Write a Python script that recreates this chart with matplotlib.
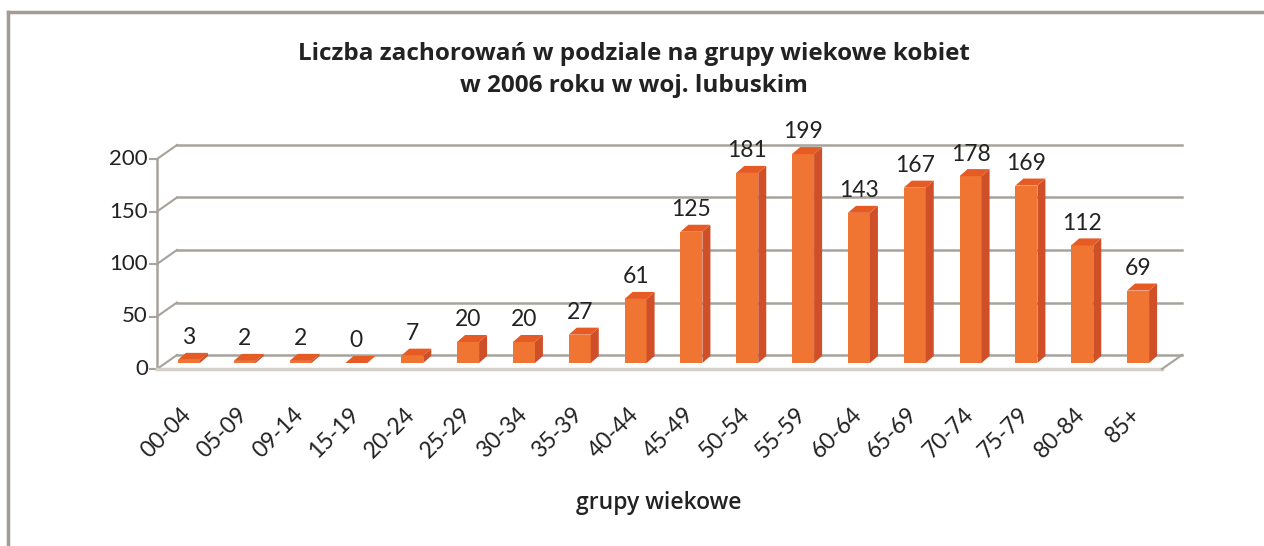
import matplotlib
matplotlib.use("Agg")
import matplotlib.pyplot as plt
from matplotlib.patches import Polygon
from matplotlib.lines import Line2D

# ── Data ──────────────────────────────────────────────────
groups = ["00-04", "05-09", "09-14", "15-19", "20-24", "25-29", "30-34", "35-39",
          "40-44", "45-49", "50-54", "55-59", "60-64", "65-69", "70-74", "75-79",
          "80-84", "85+"]
cases = [3, 2, 2, 0, 7, 20, 20, 27, 61, 125, 181, 199, 143, 167, 178, 169, 112, 69]
yticks = [0, 50, 100, 150, 200]

title = "Liczba zachorowań w podziale na grupy wiekowe kobiet\nw 2006 roku w woj. lubuskim"
xlabel = "grupy wiekowe"

# ── Style ─────────────────────────────────────────────────
plt.rcParams["font.family"] = ["Lato", "DejaVu Sans"]
WIDE = ["Open Sans", "DejaVu Sans"]
FRONT = "#f07432"
SIDE = "#cf5028"
TOP = "#e65a24"
GRID = "#a8a29d"
TXT = "#222222"

W, H = 1264, 546
fig = plt.figure(figsize=(W / 100, H / 100), dpi=100, facecolor="white")

# plot area (front plane) in pixels
x_left, x_right = 157, 1162
y_zero, px_unit = 369, 1.05
n = len(groups)
px_cat = (x_right - x_left) / n
ax = fig.add_axes([x_left / W, (H - y_zero) / H, (x_right - x_left) / W, 220 * px_unit / H])
ax.set_xlim(-0.5, n - 0.5)
ax.set_ylim(0, 220)
ax.axis("off")

# depth of the wall / floor and bar geometry (data units)
ddx, ddy = 20 / px_cat, 14 / px_unit
fx, fy = 4 / px_cat, 6 / px_unit
bw = 22 / px_cat
bdx, bdy = 8 / px_cat, 7 / px_unit
x0, x1 = -0.5, n - 0.5

def seg(xs, ys, **kw):
    ax.add_line(Line2D(xs, ys, clip_on=False, **kw))

# back wall gridlines + left wall diagonals + front ticks
for v in yticks:
    seg([x0 + ddx, x1 + ddx], [v + ddy, v + ddy], color=GRID, lw=1.8)
    seg([x0, x0 + ddx], [v, v + ddy], color=GRID, lw=1.5)
    seg([x0 - 7 / px_cat, x0], [v, v], color=GRID, lw=1.5)
    ax.text(x0 - 9 / px_cat, v, str(v), ha="right", va="center",
            fontsize=16, color=TXT)
seg([x0, x0], [0, yticks[-1]], color=GRID, lw=1.8)

# floor
seg([x0, x1], [0, 0], color="#d6d0cb", lw=2.5)
seg([x1, x1 + ddx], [0, ddy], color=GRID, lw=1.5)

# bars with faux 3D faces
bars = ax.bar([i + fx for i in range(n)], cases, width=bw, bottom=fy,
              color=FRONT, edgecolor="none", zorder=3, clip_on=False)
for bar, v in zip(bars, cases):
    bx, by = bar.get_x(), bar.get_y()
    bwid, bh = bar.get_width(), bar.get_height()
    side = [(bx + bwid, by), (bx + bwid + bdx, by + bdy),
            (bx + bwid + bdx, by + bh + bdy), (bx + bwid, by + bh)]
    top = [(bx, by + bh), (bx + bwid, by + bh),
           (bx + bwid + bdx, by + bh + bdy), (bx + bdx, by + bh + bdy)]
    ax.add_patch(Polygon(side, closed=True, fc=SIDE, ec="none", zorder=3, clip_on=False))
    ax.add_patch(Polygon(top, closed=True, fc=TOP, ec="none", zorder=3, clip_on=False))
    ax.text(bx + bwid / 2, by + bh + 21, str(v), ha="center", va="center",
            fontsize=16.5, color=TXT, zorder=4)

# category labels
for i, g in enumerate(groups):
    ax.text(i + fx - 8 / px_cat, -33, g, rotation=45, rotation_mode="anchor",
            ha="right", va="top", fontsize=16.5, color=TXT)

fig.text(659 / W, 1 - 503 / H, xlabel, ha="center", va="center",
         fontsize=16.5, color=TXT, family=WIDE, fontweight="semibold")
fig.text(634 / W, 1 - 70 / H, title, ha="center", va="center",
         fontsize=17.5, fontweight="bold", color=TXT, linespacing=1.45, family=WIDE)

# outer frame (top and left edges)
fig.add_artist(Line2D([8 / W, 1], [1 - 12 / H, 1 - 12 / H], transform=fig.transFigure,
                      color="#a39b94", lw=2.5))
fig.add_artist(Line2D([8 / W, 8 / W], [0, 1 - 12 / H], transform=fig.transFigure,
                      color="#a39b94", lw=2.5))

fig.savefig("out.png", dpi=100, facecolor="white")
